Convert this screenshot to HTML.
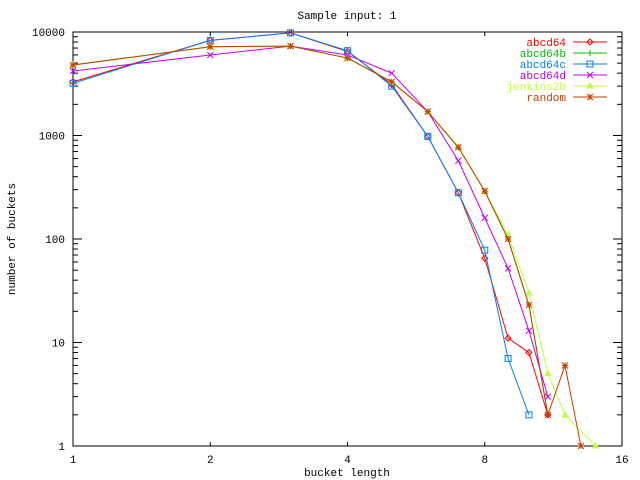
<!DOCTYPE html>
<html><head><meta charset="utf-8"><style>body{margin:0;background:#fff}svg{display:block;font-family:"Liberation Mono",monospace;font-size:11px}</style></head>
<body>
<svg id="chart" width="640" height="480" xmlns="http://www.w3.org/2000/svg">
<rect width="640" height="480" fill="#fff"/>
<g id="axes"></g><g id="series"></g><g id="legend"></g>
</svg>
<script>
const xs = [1,2,3,4,5,6,7,8,9,10,11,12,13,14,15];
const seriesNames = ["abcd64","abcd64b","abcd64c","abcd64d","jenkins2b","random"];
const colors = ["#ff0000","#00c000","#0080ff","#c000ff","#c0ff40","#c04000"];
const abcd64 = [3300,8300,9800,6500,3100,980,280,65,11,8,2];
const abcd64b = [4800,7200,7300,5600,3300,1700,770,290,100,23,2];
const abcd64c = [3200,8300,9800,6600,3000,980,280,78,7,2];
const abcd64d = [4200,6000,7300,6000,4000,1700,570,160,52,13,3];
const jenkins2b = [4800,7200,7300,5600,3300,1700,780,290,110,30,5,2,null,1];
const random = [4800,7200,7300,5600,3300,1700,770,290,100,23,2,6,1];
const yTicks = [1,10,100,1000,10000];
const xTicks = [1,2,4,8,16];
const L=73,R=622,T=32,B=446;
const sx=v=>L+(R-L)*Math.log2(v)/4;
const sy=v=>B-(B-T)*Math.log10(v)/4;
const NS="http://www.w3.org/2000/svg";
function mk(tag,attrs,parent){const e=document.createElementNS(NS,tag);for(const k in attrs)e.setAttribute(k,attrs[k]);parent.appendChild(e);return e;}
const ax=document.getElementById('axes');
const frame=mk('rect',{x:L,y:T,width:R-L,height:B-T,fill:'none',stroke:'#000','stroke-width':1},ax);


for(let d=0;d<4;d++)for(let m=1;m<10;m++){const v=Math.pow(10,d)*m;const y=sy(v);const len=m===1?9:5;
mk('line',{x1:L,y1:y,x2:L+len,y2:y,stroke:'#000'},ax);mk('line',{x1:R,y1:y,x2:R-len,y2:y,stroke:'#000'},ax);}
yTicks.forEach(v=>{const t=mk('text',{x:L-8,y:sy(v)+4,'text-anchor':'end'},ax);t.textContent=v;

});
xTicks.forEach(v=>{const x=sx(v);
mk('line',{x1:x,y1:B,x2:x,y2:B-4,stroke:'#000'},ax);mk('line',{x1:x,y1:T,x2:x,y2:T+4,stroke:'#000'},ax);});
xTicks.forEach(v=>{const t=mk('text',{x:sx(v),y:B+17,'text-anchor':'middle'},ax);t.textContent=v;

});
let t=mk('text',{x:347,y:19,'text-anchor':'middle'},ax);t.textContent='Sample input: 1';


t=mk('text',{x:347,y:476,'text-anchor':'middle'},ax);t.textContent='bucket length';


t=mk('text',{x:15,y:239,'text-anchor':'middle',transform:'rotate(-90 15 239)'},ax);t.textContent='number of buckets';


function marker(g,i,x,y,c){
 if(i===0)mk('path',{d:`M${x-3},${y}L${x},${y-3}L${x+3},${y}L${x},${y+3}Z`,fill:'none',stroke:c},g);
 else if(i===1)mk('path',{d:`M${x-3},${y}H${x+3}M${x},${y-3}V${y+3}`,stroke:c},g);
 else if(i===2)mk('rect',{x:x-3,y:y-3,width:6,height:6,fill:'none',stroke:c},g);
 else if(i===3)mk('path',{d:`M${x-3},${y-3}L${x+3},${y+3}M${x-3},${y+3}L${x+3},${y-3}`,stroke:c},g);
 else if(i===4)mk('path',{d:`M${x-3},${y+2}L${x},${y-3}L${x+3},${y+2}Z`,fill:c,stroke:c},g);
 else mk('path',{d:`M${x-3},${y}H${x+3}M${x},${y-3}V${y+3}M${x-3},${y-3}L${x+3},${y+3}M${x-3},${y+3}L${x+3},${y-3}`,stroke:c},g);}
const data=[abcd64,abcd64b,abcd64c,abcd64d,jenkins2b,random];
const sg=document.getElementById('series'),lg=document.getElementById('legend');
[1,3,0,2,4,5].forEach(i=>{
 const g=mk('g',{},sg);
 
 
 const pts=[];data[i].forEach((v,j)=>{if(v!=null)pts.push([sx(xs[j]),sy(v)]);});
 mk('polyline',{points:pts.map(p=>p.join(',')).join(' '),fill:'none',stroke:colors[i],'stroke-width':1},g);
 pts.forEach(p=>marker(g,i,p[0],p[1],colors[i]));});
seriesNames.forEach((n,i)=>{const y=42+11*i;
 const g=mk('g',{},lg);
 
 
 const tx=mk('text',{x:566,y:y+4,'text-anchor':'end',fill:colors[i]},g);tx.textContent=n;
 mk('line',{x1:573,y1:y,x2:607,y2:y,stroke:colors[i]},g);marker(g,i,590,y,colors[i]);});
</script>
</body></html>
